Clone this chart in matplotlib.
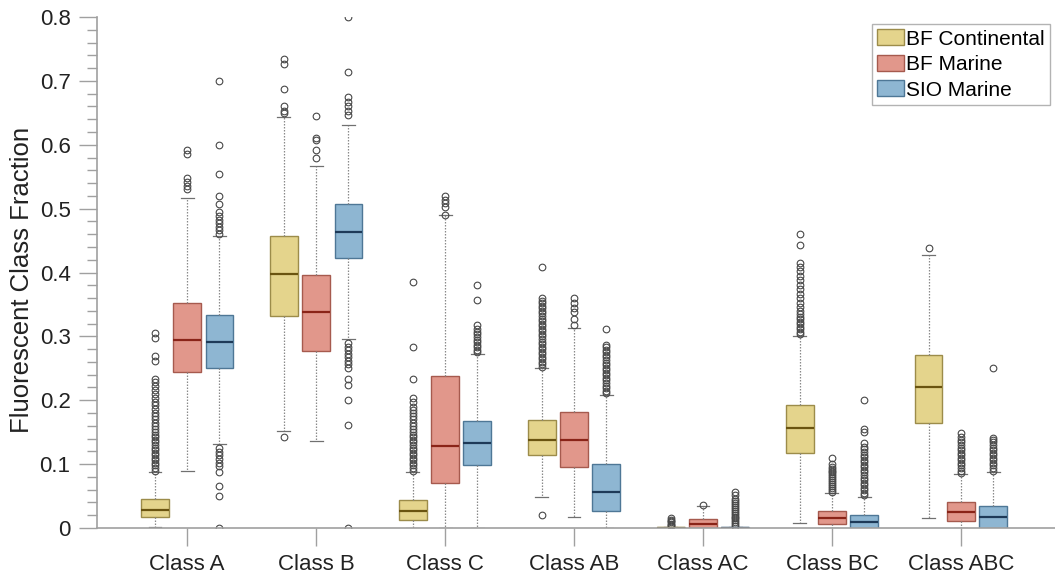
import matplotlib
matplotlib.use("Agg")
import matplotlib.pyplot as plt
from matplotlib.patches import Patch
from matplotlib.ticker import MultipleLocator

plt.rcParams['font.family'] = ['Liberation Sans', 'DejaVu Sans']

classes = ["Class A", "Class B", "Class C", "Class AB", "Class AC", "Class BC", "Class ABC"]
series = ["BF Continental", "BF Marine", "SIO Marine"]

# box statistics per series, one value per class
cont_whislo = [0.002, 0.152, 0.000, 0.049, 0.000, 0.008, 0.015]
cont_q1     = [0.017, 0.332, 0.013, 0.115, 0.000, 0.118, 0.164]
cont_med    = [0.028, 0.398, 0.026, 0.138, 0.000, 0.156, 0.221]
cont_q3     = [0.046, 0.457, 0.044, 0.169, 0.001, 0.192, 0.271]
cont_whishi = [0.088, 0.643, 0.087, 0.250, 0.002, 0.301, 0.428]

mar_whislo = [0.090, 0.136, 0.000, 0.018, 0.000, 0.000, 0.000]
mar_q1     = [0.244, 0.277, 0.070, 0.096, 0.000, 0.007, 0.011]
mar_med    = [0.294, 0.338, 0.128, 0.138, 0.007, 0.016, 0.025]
mar_q3     = [0.353, 0.396, 0.238, 0.182, 0.014, 0.026, 0.041]
mar_whishi = [0.517, 0.567, 0.490, 0.313, 0.034, 0.055, 0.084]

sio_whislo = [0.131, 0.296, 0.000, 0.000, 0.000, 0.000, 0.000]
sio_q1     = [0.250, 0.422, 0.098, 0.027, 0.000, 0.000, 0.000]
sio_med    = [0.291, 0.464, 0.133, 0.056, 0.000, 0.010, 0.017]
sio_q3     = [0.333, 0.507, 0.168, 0.100, 0.001, 0.021, 0.035]
sio_whishi = [0.457, 0.631, 0.273, 0.209, 0.002, 0.049, 0.088]

# outliers per class
cont_fliers = [
    [0.090, 0.094, 0.098, 0.102, 0.106, 0.110, 0.114, 0.118, 0.122, 0.126, 0.130,
     0.134, 0.138, 0.142, 0.146, 0.150, 0.155, 0.160, 0.165, 0.170, 0.175, 0.180,
     0.186, 0.192, 0.198, 0.204, 0.210, 0.216, 0.222, 0.228, 0.233,
     0.262, 0.270, 0.297, 0.305],
    [0.142, 0.649, 0.653, 0.660, 0.687, 0.726, 0.734],
    [0.090, 0.094, 0.098, 0.102, 0.106, 0.110, 0.114, 0.118, 0.122, 0.126, 0.130,
     0.134, 0.138, 0.142, 0.146, 0.150, 0.155, 0.160, 0.165, 0.170, 0.175, 0.180,
     0.185, 0.190, 0.197, 0.203, 0.234, 0.284, 0.385],
    [0.021, 0.252, 0.256, 0.260, 0.264, 0.268, 0.272, 0.276, 0.280, 0.284, 0.288,
     0.292, 0.296, 0.300, 0.304, 0.308, 0.312, 0.316, 0.320, 0.324, 0.328, 0.332,
     0.336, 0.340, 0.344, 0.348, 0.352, 0.356, 0.360, 0.408],
    [0.003, 0.005, 0.007, 0.009, 0.011, 0.013, 0.015],
    [0.303, 0.307, 0.311, 0.315, 0.319, 0.323, 0.327, 0.331, 0.335, 0.340, 0.346,
     0.353, 0.360, 0.367, 0.374, 0.381, 0.388, 0.395, 0.402, 0.409, 0.415,
     0.443, 0.461],
    [0.438],
]
mar_fliers = [
    [0.531, 0.536, 0.542, 0.548, 0.585, 0.592],
    [0.580, 0.592, 0.608, 0.611, 0.645],
    [0.490, 0.503, 0.509, 0.514, 0.520],
    [0.318, 0.328, 0.338, 0.345, 0.352, 0.360],
    [0.036],
    [0.057, 0.060, 0.063, 0.066, 0.069, 0.072, 0.075, 0.078, 0.081, 0.084, 0.087,
     0.090, 0.093, 0.096, 0.100, 0.109],
    [0.086, 0.090, 0.094, 0.098, 0.102, 0.106, 0.110, 0.114, 0.118, 0.122, 0.126,
     0.130, 0.134, 0.138, 0.142, 0.149],
]
sio_fliers = [
    [0.000, 0.050, 0.066, 0.088, 0.097, 0.102, 0.108, 0.114, 0.119, 0.125,
     0.460, 0.466, 0.471, 0.477, 0.483, 0.489, 0.495, 0.508, 0.520, 0.555, 0.600, 0.700],
    [0.000, 0.161, 0.200, 0.224, 0.234, 0.251, 0.256, 0.262, 0.268, 0.273, 0.279,
     0.284, 0.290, 0.646, 0.653, 0.660, 0.667, 0.675, 0.714, 0.800],
    [0.275, 0.279, 0.283, 0.287, 0.291, 0.295, 0.299, 0.303, 0.307, 0.311, 0.318,
     0.357, 0.381],
    [0.211, 0.215, 0.219, 0.223, 0.227, 0.231, 0.235, 0.239, 0.243, 0.247, 0.251,
     0.255, 0.259, 0.263, 0.267, 0.271, 0.275, 0.279, 0.283, 0.287, 0.311],
    [0.003, 0.006, 0.009, 0.012, 0.015, 0.018, 0.021, 0.024, 0.027, 0.030, 0.033,
     0.036, 0.039, 0.042, 0.046, 0.051, 0.056],
    [0.051, 0.055, 0.059, 0.063, 0.067, 0.071, 0.075, 0.079, 0.083, 0.087, 0.091,
     0.095, 0.099, 0.103, 0.107, 0.111, 0.115, 0.119, 0.123, 0.127, 0.133,
     0.150, 0.155, 0.200],
    [0.090, 0.094, 0.098, 0.102, 0.106, 0.110, 0.114, 0.118, 0.122, 0.126, 0.130,
     0.134, 0.138, 0.141, 0.250],
]

fills = ["#E4D48C", "#E1978B", "#8EB6D2"]
edges = ["#9C8C4A", "#A65A4E", "#4E7796"]
medians = ["#6A5410", "#8A2418", "#1E3A58"]
offsets = [-0.25, 0.0, 0.25]
box_w = 0.215

fig = plt.figure(figsize=(10.55, 5.81), dpi=100)
ax = fig.add_axes([0.0919, 0.0912, 0.9081, 0.8795])

all_stats = [
    (cont_whislo, cont_q1, cont_med, cont_q3, cont_whishi, cont_fliers),
    (mar_whislo, mar_q1, mar_med, mar_q3, mar_whishi, mar_fliers),
    (sio_whislo, sio_q1, sio_med, sio_q3, sio_whishi, sio_fliers),
]

for s, (wlo, q1, med, q3, whi, fl) in enumerate(all_stats):
    stats = []
    for i in range(len(classes)):
        stats.append(dict(whislo=wlo[i], q1=q1[i], med=med[i], q3=q3[i],
                          whishi=whi[i], fliers=fl[i]))
    pos = [i + offsets[s] for i in range(len(classes))]
    ax.bxp(stats, positions=pos, widths=box_w, capwidths=0.1, patch_artist=True,
           showfliers=True, manage_ticks=False,
           boxprops=dict(facecolor=fills[s], edgecolor=edges[s], linewidth=1.0),
           medianprops=dict(color=medians[s], linewidth=1.6),
           whiskerprops=dict(color="#8A8A8A", linewidth=0.9, linestyle=(0, (1.2, 1.2))),
           capprops=dict(color="#707070", linewidth=0.9),
           flierprops=dict(marker="o", markersize=4.8, markerfacecolor="none",
                           markeredgecolor="#484848", markeredgewidth=0.8,
                           linestyle="none"))

ax.set_xlim(-0.70, 6.73)
ax.set_ylim(0, 0.8)
ax.set_xticks(range(len(classes)))
ax.set_xticklabels(classes, fontsize=16, color="#222222")
ax.yaxis.set_major_locator(MultipleLocator(0.1))
ax.yaxis.set_minor_locator(MultipleLocator(0.02))
ax.set_yticks([0, 0.1, 0.2, 0.3, 0.4, 0.5, 0.6, 0.7, 0.8])
ax.set_yticklabels(["0", "0.1", "0.2", "0.3", "0.4", "0.5", "0.6", "0.7", "0.8"],
                   fontsize=16, color="#222222")
ax.set_ylabel("Fluorescent Class Fraction", fontsize=18.5, color="#222222")
ax.yaxis.set_label_coords(-0.066, 0.485)

for side in ["top", "right"]:
    ax.spines[side].set_visible(False)
for side in ["left", "bottom"]:
    ax.spines[side].set_color("#A0A0A0")
    ax.spines[side].set_linewidth(1.2)
ax.tick_params(axis="both", which="major", direction="out", length=13,
               width=1.0, color="#A0A0A0", pad=6)
ax.tick_params(axis="y", which="minor", direction="out", length=7,
               width=1.0, color="#A0A0A0")
ax.tick_params(axis="x", which="minor", length=0)

handles = [Patch(facecolor=fills[k], edgecolor=edges[k], linewidth=1.0, label=series[k])
           for k in range(3)]
leg = ax.legend(handles=handles, loc="upper right", bbox_to_anchor=(0.995, 0.986),
                fontsize=15, frameon=True, fancybox=False, handlelength=1.3,
                handleheight=0.8, handletextpad=0.1, labelspacing=0.3,
                borderpad=0.25, borderaxespad=0.0)
leg.get_frame().set_edgecolor("#A0A0A0")
leg.get_frame().set_linewidth(1.0)

fig.savefig("out.png", dpi=100)
